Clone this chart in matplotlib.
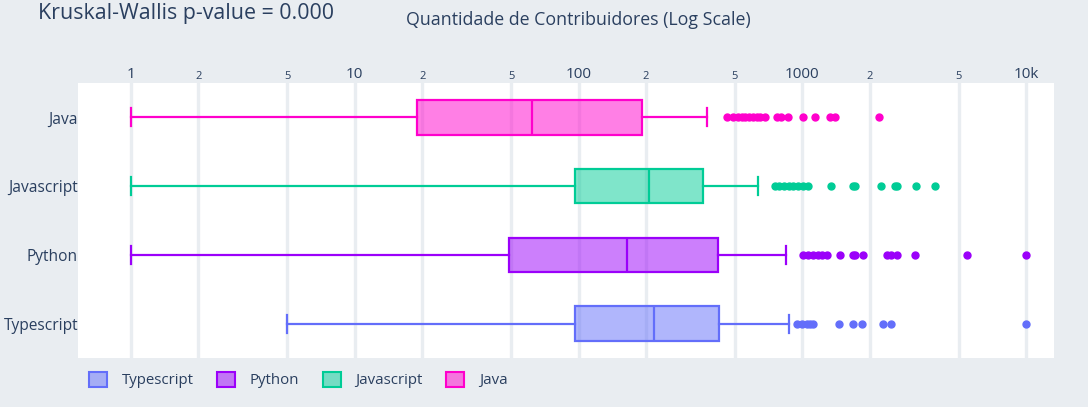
import matplotlib.pyplot as plt
import matplotlib.ticker as mticker
from matplotlib.patches import Patch

plt.rcParams['font.family'] = ['Open Sans', 'DejaVu Sans']

# categories, bottom to top
langs = ['Typescript', 'Python', 'Javascript', 'Java']
colors = ['#636efa', '#9b00fa', '#00cc96', '#ff00cc']

# box statistics (contributors)
whislo = [5, 1, 1, 1]
q1 = [96, 49, 96, 19]
med = [218, 164, 207, 62]
q3 = [426, 422, 361, 193]
whishi = [875, 849, 636, 376]

# outliers
fliers_ts = [950, 1000, 1052, 1080, 1119, 1462, 1689, 1853, 2300, 2495, 10000]
fliers_py = [1010, 1060, 1119, 1170, 1228, 1294, 1479, 1690, 1725, 1873,
             2394, 2500, 2654, 3194, 5454, 10000]
fliers_js = [757, 790, 830, 870, 910, 960, 1010, 1064, 1346, 1689, 1720,
             2253, 2600, 2654, 3228, 3924]
fliers_java = [462, 490, 518, 540, 557, 580, 604, 625, 649, 680, 773, 800,
               866, 1010, 1143, 1334, 1404, 2207]
fliers = [fliers_ts, fliers_py, fliers_js, fliers_java]

title = 'Kruskal-Wallis p-value = 0.000'
xlabel = 'Quantidade de Contribuidores (Log Scale)'

text_color = '#2a3f5f'
bg = '#e9edf1'

fig = plt.figure(figsize=(10.88, 4.07), dpi=100, facecolor=bg)
ax = fig.add_axes([78 / 1088, 1 - 358 / 407, (1054 - 78) / 1088, (358 - 83) / 407])
ax.set_facecolor('white')

for i, lang in enumerate(langs):
    st = [dict(whislo=whislo[i], q1=q1[i], med=med[i], q3=q3[i],
               whishi=whishi[i], fliers=fliers[i], label=lang)]
    c = colors[i]
    ax.bxp(st, positions=[i], widths=0.5, capwidths=0.26, vert=False,
           patch_artist=True, showfliers=True,
           boxprops=dict(facecolor=c + '80', edgecolor=c, linewidth=1.6),
           medianprops=dict(color=c, linewidth=1.6),
           whiskerprops=dict(color=c, linewidth=1.6),
           capprops=dict(color=c, linewidth=1.6),
           flierprops=dict(marker='o', markerfacecolor=c, markeredgecolor=c,
                           markersize=5, linestyle='none'),
           zorder=3)

ax.set_xscale('log')
ax.set_xlim(10 ** -0.237, 10 ** 4.125)
ax.set_ylim(-0.5, 3.5)
ax.set_yticks(range(len(langs)))
ax.set_yticklabels(langs)

ax.xaxis.set_major_locator(mticker.FixedLocator([1, 10, 100, 1000, 10000]))
ax.xaxis.set_major_formatter(mticker.FixedFormatter(['1', '10', '100', '1000', '10k']))
minor = [2, 5, 20, 50, 200, 500, 2000, 5000]
ax.xaxis.set_minor_locator(mticker.FixedLocator(minor))
ax.xaxis.set_minor_formatter(mticker.FixedFormatter(['2', '5'] * 4))
ax.xaxis.tick_top()
ax.tick_params(axis='x', which='major', length=0, pad=0.5, labelsize=11, labelcolor=text_color)
ax.tick_params(axis='x', which='minor', length=0, pad=0.5, labelsize=8, labelcolor=text_color)
ax.tick_params(axis='y', length=0, pad=0, labelsize=11.2, labelcolor=text_color)

ax.grid(True, axis='x', which='both', color=bg, linewidth=2.4, zorder=0)
ax.set_axisbelow(True)
for s in ax.spines.values():
    s.set_visible(False)

fig.text(38 / 1088, 1 - 13 / 407, title, fontsize=15.4, color=text_color, va='center', ha='left')
fig.text(578 / 1088, 1 - 20 / 407, xlabel, fontsize=12.8, color=text_color, va='center', ha='center')

handles = [Patch(facecolor=c + '80', edgecolor=c, linewidth=1.5) for c in colors]
fig.legend(handles, langs, loc='center left', bbox_to_anchor=(75 / 1088, 1 - 380 / 407),
           ncol=4, frameon=False, fontsize=10.8, labelcolor=text_color,
           handlelength=1.2, handleheight=1.2, columnspacing=1.55, handletextpad=1.0)

fig.savefig('out.png', dpi=100, facecolor=bg)
